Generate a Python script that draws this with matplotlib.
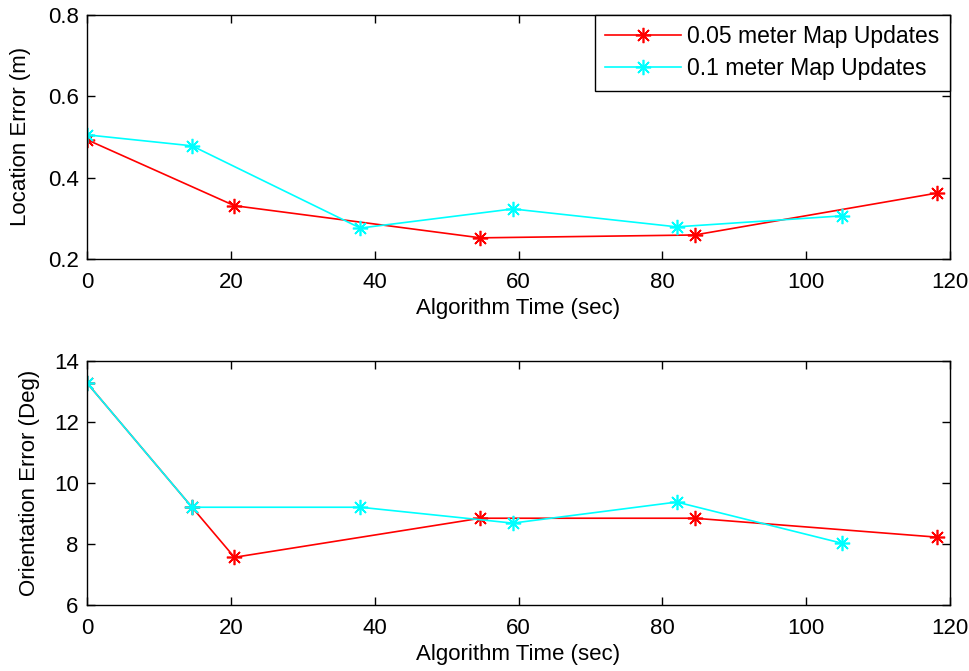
import matplotlib
matplotlib.use('Agg')
import matplotlib.pyplot as plt

# datos
x_red_loc = [0, 20.5, 54.7, 84.5, 118.2]
loc_red = [0.493, 0.331, 0.252, 0.259, 0.362]
x_cyan = [0, 14.6, 38.0, 59.2, 82.0, 105.0]
loc_cyan = [0.505, 0.478, 0.276, 0.323, 0.279, 0.306]

x_red_ori = [0, 14.6, 20.5, 54.7, 84.5, 118.2]
ori_red = [13.28, 9.21, 7.57, 8.85, 8.85, 8.23]
ori_cyan = [13.28, 9.21, 9.21, 8.69, 9.38, 8.03]

plt.rcParams['font.family'] = ['Liberation Sans', 'DejaVu Sans']
plt.rcParams['font.size'] = 16

# asterisco estilo matlab
ast = (8, 2, 0)

fig = plt.figure(figsize=(9.69, 6.71), dpi=100)
ax1 = fig.add_axes([0.0898, 0.614, 0.8906, 0.364])
ax2 = fig.add_axes([0.0898, 0.098, 0.8906, 0.364])

ax1.plot(x_red_loc, loc_red, color='red', marker=ast, markersize=11, mew=1.2, lw=1.2,
         label='0.05 meter Map Updates')
ax1.plot(x_cyan, loc_cyan, color='cyan', marker=ast, markersize=11, mew=1.2, lw=1.2,
         label='0.1 meter Map Updates')
ax1.set_xlim(0, 120)
ax1.set_ylim(0.2, 0.8)
ax1.set_yticks([0.2, 0.4, 0.6, 0.8])
ax1.set_xlabel('Algorithm Time (sec)', labelpad=4)
ax1.set_ylabel('Location Error (m)', labelpad=12)
leg = ax1.legend(loc='upper right', borderaxespad=0, fancybox=False,
                 handlelength=3.3, handletextpad=0.3, borderpad=0.45,
                 labelspacing=0.4, framealpha=1, fontsize=16.5)
leg.get_frame().set_edgecolor('black')
leg.get_frame().set_linewidth(1.0)

ax2.plot(x_red_ori, ori_red, color='red', marker=ast, markersize=11, mew=1.2, lw=1.2)
ax2.plot(x_cyan, ori_cyan, color='cyan', marker=ast, markersize=11, mew=1.2, lw=1.2)
ax2.set_xlim(0, 120)
ax2.set_ylim(6, 14)
ax2.set_yticks([6, 8, 10, 12, 14])
ax2.set_xlabel('Algorithm Time (sec)', labelpad=4)
ax2.set_ylabel('Orientation Error (Deg)', labelpad=10)

for ax in (ax1, ax2):
    ax.set_xticks([0, 20, 40, 60, 80, 100, 120])
    ax.tick_params(direction='in', top=True, right=True, length=6, width=1,
                   labelsize=16)
    ax.tick_params(axis='x', pad=9)
    ax.tick_params(axis='y', pad=6)
    for s in ax.spines.values():
        s.set_linewidth(1.0)

fig.savefig('out.png', dpi=100)
